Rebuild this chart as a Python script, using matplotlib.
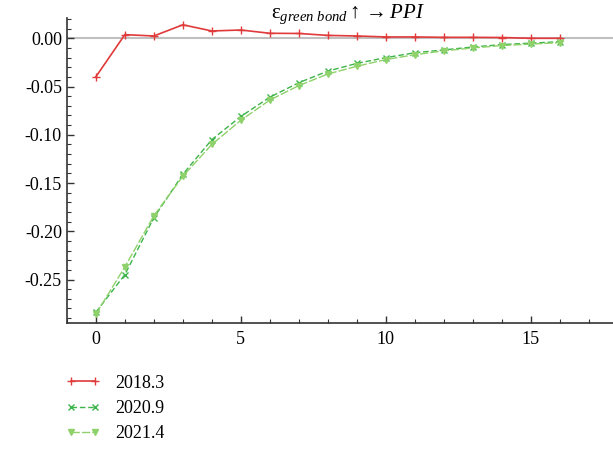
import matplotlib
matplotlib.use("Agg")
import matplotlib.pyplot as plt
from matplotlib.ticker import MultipleLocator

periods = list(range(17))
s2018_3 = [-0.040, 0.0038, 0.0024, 0.014, 0.0076, 0.0086, 0.0052, 0.005, 0.003,
           0.0024, 0.0014, 0.0014, 0.001, 0.001, 0.0008, 0.0, 0.0]
s2020_9 = [-0.284, -0.245, -0.186, -0.141, -0.105, -0.081, -0.061, -0.046, -0.034,
           -0.026, -0.020, -0.015, -0.012, -0.009, -0.0065, -0.005, -0.0035]
s2021_4 = [-0.286, -0.237, -0.184, -0.143, -0.110, -0.085, -0.064, -0.049, -0.037,
           -0.029, -0.022, -0.017, -0.013, -0.010, -0.0075, -0.006, -0.0045]
labels = ["2018.3", "2020.9", "2021.4"]

plt.rcParams['font.family'] = ['Liberation Serif', 'DejaVu Serif']
plt.rcParams['mathtext.fontset'] = 'custom'
plt.rcParams['mathtext.rm'] = 'Liberation Serif'
plt.rcParams['mathtext.it'] = 'Liberation Serif:italic'

fig = plt.figure(figsize=(6.13, 4.51), dpi=100)
ax = fig.add_axes([0.109, 0.284, 0.891, 0.676])

ax.axhline(0, color='#c0c0c0', lw=1.5, zorder=0)
ax.plot(periods, s2018_3, color='#e03a3a', lw=1.2, marker='+', ms=6, mew=1.0, label=labels[0])
ax.plot(periods, s2020_9, color='#3db44a', lw=1.0, ls=(0, (4, 2)), marker='x', ms=4.5, mew=1.0, label=labels[1])
ax.plot(periods, s2021_4, color='#8fd16a', lw=1.0, ls=(0, (6, 1.5)), marker='v', ms=5, label=labels[2])

ax.set_xlim(-1.0, 17.83)
ax.set_ylim(-0.295, 0.021)
ax.xaxis.set_major_locator(MultipleLocator(5))
ax.xaxis.set_minor_locator(MultipleLocator(1))
ax.yaxis.set_major_locator(MultipleLocator(0.05))
ax.yaxis.set_minor_locator(MultipleLocator(0.01))
ax.yaxis.set_major_formatter(matplotlib.ticker.FuncFormatter(lambda v, p: f"{v:.2f}".replace("-0.00", "0.00")))
for s in ['top', 'right']:
    ax.spines[s].set_visible(False)
for s in ['left', 'bottom']:
    ax.spines[s].set_color('#333333')
    ax.spines[s].set_linewidth(1.2)
ax.tick_params(which='both', direction='in', color='#333333', labelsize=13)
ax.tick_params(which='major', length=5, width=1.0)
ax.tick_params(which='minor', length=3, width=0.8)
ax.tick_params(axis='x', pad=6)

fig.text(0.567, 0.968, r'$\mathrm{ε}_{\mathit{green\ bond}}\uparrow\rightarrow\mathit{PPI}$',
         ha='center', va='center', fontsize=15)

ax.legend(loc='upper left', bbox_to_anchor=(0.096, 0.185), bbox_transform=fig.transFigure,
          frameon=False, fontsize=13, handlelength=1.9, labelspacing=0.46, handletextpad=0.8,
          borderaxespad=0, numpoints=2)

fig.savefig('out.png', dpi=100)
